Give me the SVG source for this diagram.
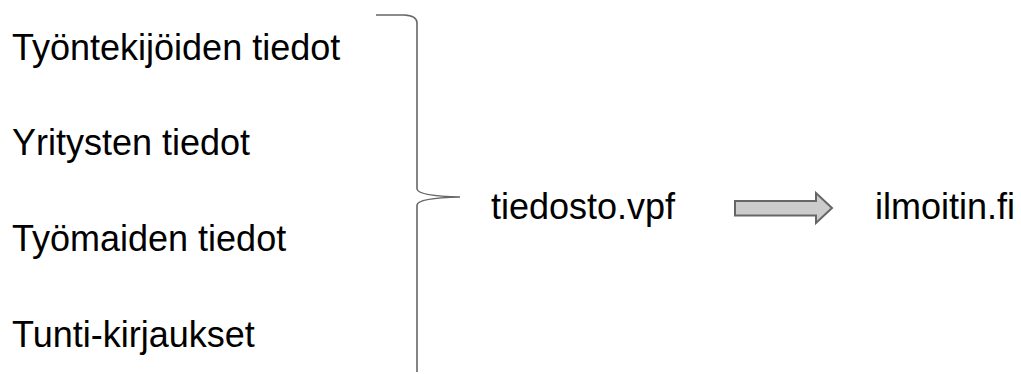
<svg xmlns="http://www.w3.org/2000/svg" width="1021" height="374" viewBox="0 0 1021 374">
<style>
.t{font-family:"Liberation Sans",Arial,sans-serif;font-size:36px;fill:#000}
.brace{fill:none;stroke:#666;stroke-width:1.6}
.arrow{fill:#ccc;stroke:#666;stroke-width:2;stroke-linejoin:miter}
</style>
<rect width="1021" height="374" fill="#fff"/>
<g id="n1"><text class="t" x="12" y="60">Työntekijöiden tiedot</text></g>
<g id="n2"><text class="t" x="12" y="155">Yritysten tiedot</text></g>
<g id="n3"><text class="t" x="12" y="251">Työmaiden tiedot</text></g>
<g id="n4"><text class="t" x="12" y="347">Tunti-kirjaukset</text></g>
<g id="n5"><text class="t" x="491" y="219">tiedosto.vpf</text></g>
<g id="n6"><text class="t" x="875" y="219">ilmoitin.fi</text></g>
<g id="connectors">
<path class="brace" d="M376,15 L404,15 Q417,15.5 417,23 L417,189 Q418,196 460,197 Q418,198 417,205 L417,372"/>
<path class="arrow" d="M735,201 L816,201 L816,193 L832,208 L816,223 L816,215.5 L735,215.5 Z"/>
</g>
</svg>
